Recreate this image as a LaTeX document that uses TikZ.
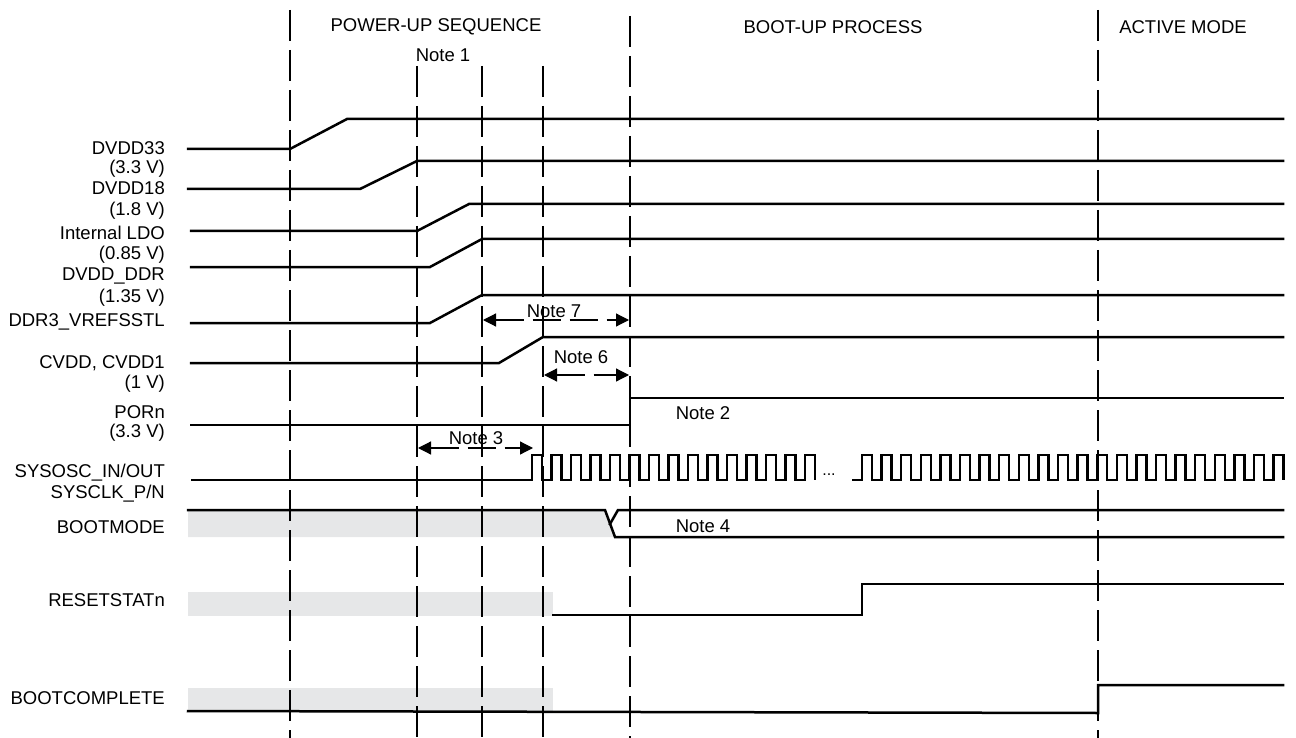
\documentclass[tikz,border=0pt]{standalone}
\usepackage{fontspec}
\setmainfont{Liberation Sans}
\usetikzlibrary{arrows.meta}
\definecolor{bandgray}{HTML}{E6E7E8}
\begin{document}
\begin{tikzpicture}[x=1pt,y=-1pt,
  sig/.style={line width=2.5pt, line join=miter, line cap=rect},
  guide/.style={line width=1.2pt, dash pattern=on 31pt off 9pt},
  lbl/.style={font=\fontsize{18.5}{20}\selectfont, anchor=east, inner sep=0pt},
  txt/.style={font=\fontsize{18.5}{20}\selectfont, inner sep=0pt},
  dim/.style={line width=1.2pt, dash pattern=on 28pt off 9pt,
    {Triangle[length=13pt,width=13pt]}-{Triangle[length=13pt,width=13pt]}}]
\useasboundingbox (0,0) rectangle (1296,738);

% grey bands
\fill[bandgray] (188,510) -- (605,510) -- (615,537) -- (188,537) -- cycle;
\fill[bandgray] (188,592) rectangle (553,616);
\fill[bandgray] (188,688) rectangle (553,711);

% vertical guides
\draw[guide] (290,10) -- (290,738);
\draw[guide] (417,66) -- (417,738);
\draw[guide] (482,66) -- (482,738);
\draw[guide] (543,66) -- (543,738);
\draw[guide] (630,16) -- (630,738);
\draw[guide] (1098,10) -- (1098,738);

% titles
\node[txt] (t1) at (436,27) {POWER-UP SEQUENCE};
\node[txt] (t2) at (833,27) {BOOT-UP PROCESS};
\node[txt] (t3) at (1183,27) {ACTIVE MODE};
\node[txt] (n1) at (443,55) {Note 1};

% labels
\node[lbl] (l1) at (165,148) {DVDD33};
\node[lbl] (l1v) at (165,169) {(3.3 V)};
\node[lbl] (l2) at (165,188) {DVDD18};
\node[lbl] (l2v) at (165,211) {(1.8 V)};
\node[lbl] (l3) at (165,233) {Internal LDO};
\node[lbl] (l3v) at (165,255) {(0.85 V)};
\node[lbl] (l4) at (165,276) {DVDD\_DDR};
\node[lbl] (l4v) at (165,298) {(1.35 V)};
\node[lbl] (l5) at (165,322) {DDR3\_VREFSSTL};
\node[lbl] (l6) at (165,363) {CVDD, CVDD1};
\node[lbl] (l6v) at (165,384) {(1 V)};
\node[lbl] (l7) at (165,412) {PORn};
\node[lbl] (l7v) at (165,433) {(3.3 V)};
\node[lbl] (l8) at (165,473) {SYSOSC\_IN/OUT};
\node[lbl] (l8b) at (165,494) {SYSCLK\_P/N};
\node[lbl] (l9) at (165,527) {BOOTMODE};
\node[lbl] (l10) at (165,600) {RESETSTATn};
\node[lbl] (l11) at (165,698) {BOOTCOMPLETE};

% signals
\draw[sig] (188,149) -- (290,149) -- (347,119) -- (1283,119);
\draw[sig] (188,189) -- (360,189) -- (417,161) -- (1283,161);
\draw[sig] (191,231) -- (417,231) -- (469,204) -- (1283,204);
\draw[sig] (191,267) -- (430,267) -- (482,239) -- (1283,239);
\draw[sig] (191,323) -- (430,323) -- (482,295) -- (1283,295);
\draw[sig] (191,363) -- (499,363) -- (543,337) -- (1283,337);
\draw[sig] (191,425) -- (630,425) -- (630,398) -- (1283,398);

% clock
\draw[sig, line cap=butt] (191,480) -- (532,480)
  \foreach \k in {0,...,14} { -- ({532+19.5*\k},480) -- ({532+19.5*\k},455)
     -- ({542+19.5*\k},455) -- ({542+19.5*\k},480) };
\node[font=\fontsize{16}{16}\selectfont, inner sep=0pt] (dots) at (829,475) {...};
\draw[sig, line cap=butt] (852,480) -- (862,480)
  \foreach \k in {0,...,21} { -- ({862+19.6*\k},480) -- ({862+19.6*\k},455)
     -- ({872+19.6*\k},455) -- ({872+19.6*\k},480) };

% bootmode
\draw[sig] (188,510) -- (605,510) -- (615,537) -- (1283,537);
\draw[sig] (610,524) -- (618,510) -- (1283,510);

% resetstatn
\draw[sig] (553,615) -- (862,615) -- (862,584) -- (1283,584);
% bootcomplete
\draw[sig] (188,711) -- (1098,713) -- (1098,685) -- (1283,685);

% dimension arrows and notes
\draw[dim] (483,320) -- (629,320);
\node[txt] (n7) at (554,311) {Note 7};
\draw[dim] (544,375) -- (629,375);
\node[txt] (n6) at (581,357) {Note 6};
\draw[dim] (418,448) -- (533,448);
\node[txt] (n3) at (476,438) {Note 3};
\node[txt] (n2) at (703,413) {Note 2};
\node[txt] (n4) at (703,526) {Note 4};
\end{tikzpicture}
\end{document}
